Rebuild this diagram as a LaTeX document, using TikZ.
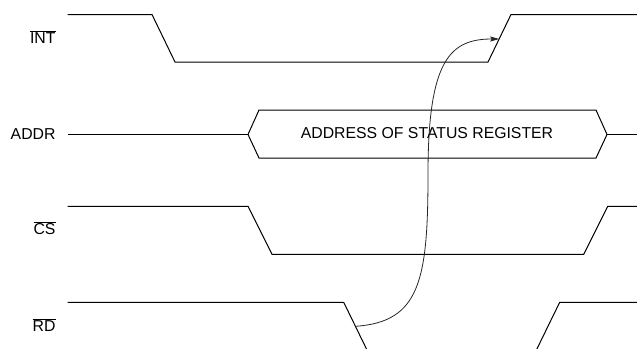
\documentclass[tikz,border=0pt]{standalone}
\usepackage{fontspec}
\setmainfont{Liberation Sans}
\usetikzlibrary{arrows.meta}
\newcommand{\sigbar}[1]{$\overline{\hbox{#1}}$}
\begin{document}
\begin{tikzpicture}[x=1pt,y=-1pt,
  wave/.style={line width=1pt, line join=miter, black},
  siglabel/.style={font=\fontsize{15.8}{18}\selectfont, anchor=base east, inner sep=0pt},
  bustext/.style={font=\fontsize{15.8}{18}\selectfont, anchor=base, inner sep=0pt},
  causal/.style={line width=0.8pt, black!85, -{Stealth[length=9pt,width=5pt,inset=1.5pt]}}]
\clip (0,0) rectangle (637,348);
% labels
\node[siglabel] (lint) at (55.7,43.7) {\sigbar{INT}};
\node[siglabel] (laddr) at (55.7,139) {ADDR};
\node[siglabel] (lcs) at (55.7,234.7) {\sigbar{CS}};
\node[siglabel] (lrd) at (55.7,331) {\sigbar{RD}};
% INT
\draw[wave] (67.5,14.5) -- (152,14.5) -- (175,62) -- (488,62) -- (511,14.5) -- (637,14.5);
% ADDR
\draw[wave] (67.5,134.5) -- (248,134.5);
\draw[wave] (248,134.5) -- (259,110) -- (596,110) -- (607,134.5) -- (596,158) -- (259,158) -- cycle;
\draw[wave] (607,134.5) -- (637,134.5);
\node[bustext] (bus) at (427,138.4) {ADDRESS OF STATUS REGISTER};
% CS
\draw[wave] (67.5,206.3) -- (248,206.3) -- (272,254.3) -- (583.7,254.3) -- (607.7,206.3) -- (637,206.3);
% RD
\draw[wave] (67.5,302.3) -- (343.7,302.3) -- (371.9,360) -- (531.5,360) -- (559.7,302.3) -- (637,302.3);
% causal arrow
\coordinate (rdfall) at (355.5,326.3);
\coordinate (intrise) at (499.2,39);
\draw[causal] (rdfall) .. controls (420,322) and (428,280) .. (428,174)
  .. controls (428,60) and (450,39) .. (intrise);
\end{tikzpicture}
\end{document}
